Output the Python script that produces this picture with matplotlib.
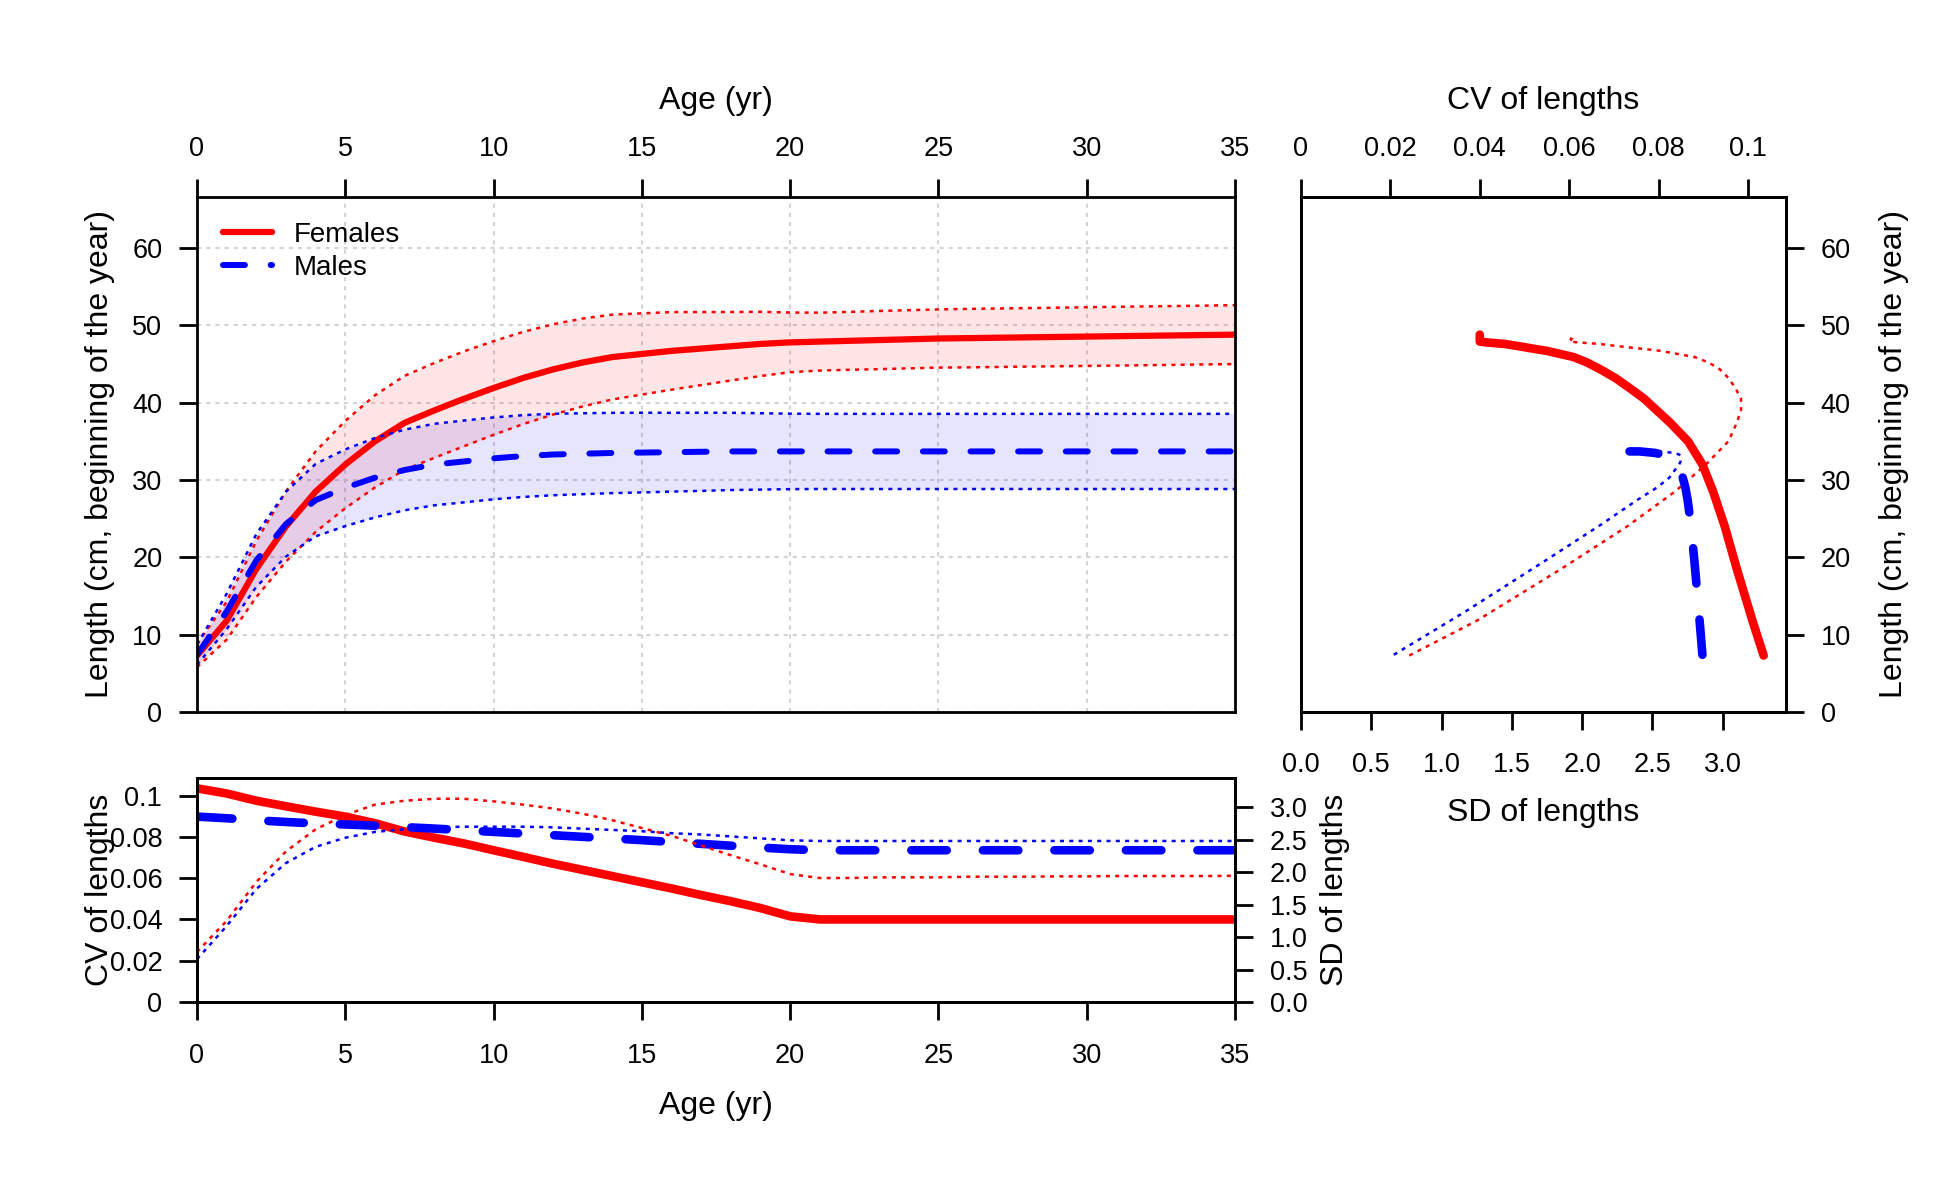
import numpy as np
import matplotlib

matplotlib.use("Agg")
import matplotlib.pyplot as plt

plt.rcParams["font.family"] = ["Liberation Sans", "DejaVu Sans"]
plt.rcParams["lines.scale_dashes"] = False

# values, one per age 0..35
ages = np.arange(0, 36)

f_len = [7.3, 11.8, 18.5, 24.0, 28.5, 32.0, 35.0, 37.4, 39.0, 40.5,
         41.9, 43.2, 44.3, 45.2, 45.9, 46.3, 46.7, 47.0, 47.3, 47.6,
         47.8, 47.9, 48.0, 48.1, 48.2, 48.3, 48.35, 48.4, 48.45, 48.5,
         48.55, 48.6, 48.65, 48.7, 48.75, 48.8]
m_len = [7.4, 13.0, 19.6, 24.3, 27.4, 29.0, 30.3, 31.3, 32.0, 32.4,
         32.8, 33.1, 33.3, 33.4, 33.5, 33.55, 33.6, 33.65, 33.7, 33.7,
         33.7, 33.7, 33.7, 33.7, 33.7, 33.7, 33.7, 33.7, 33.7, 33.7,
         33.7, 33.7, 33.7, 33.7, 33.7, 33.7]

f_cv = [0.1035, 0.1010, 0.0975, 0.0948, 0.0922, 0.0898, 0.0866, 0.0826, 0.0796, 0.0768,
        0.0735, 0.0703, 0.0670, 0.0640, 0.0610, 0.0580, 0.0550, 0.0518, 0.0488, 0.0455,
        0.0415, 0.0400, 0.0400, 0.0400, 0.0400, 0.0400, 0.0400, 0.0400, 0.0400, 0.0400,
        0.0400, 0.0400, 0.0400, 0.0400, 0.0400, 0.0400]
m_cv = [0.0898, 0.0890, 0.0880, 0.0872, 0.0865, 0.0860, 0.0854, 0.0847, 0.0840, 0.0832,
        0.0824, 0.0816, 0.0808, 0.0800, 0.0792, 0.0784, 0.0775, 0.0766, 0.0757, 0.0748,
        0.0740, 0.0735, 0.0735, 0.0735, 0.0735, 0.0735, 0.0735, 0.0735, 0.0735, 0.0735,
        0.0735, 0.0735, 0.0735, 0.0735, 0.0735, 0.0735]

f_sd = [0.77, 1.25, 1.85, 2.32, 2.66, 2.88, 3.04, 3.10, 3.13, 3.13,
        3.09, 3.04, 2.98, 2.90, 2.80, 2.68, 2.56, 2.41, 2.26, 2.12,
        1.97, 1.91, 1.91, 1.92, 1.92, 1.92, 1.93, 1.93, 1.93, 1.935,
        1.935, 1.94, 1.94, 1.94, 1.94, 1.945]
m_sd = [0.66, 1.17, 1.74, 2.14, 2.39, 2.53, 2.62, 2.66, 2.69, 2.70,
        2.70, 2.70, 2.69, 2.67, 2.65, 2.63, 2.60, 2.58, 2.55, 2.52,
        2.49, 2.48, 2.48, 2.48, 2.48, 2.48, 2.48, 2.48, 2.48, 2.48,
        2.48, 2.48, 2.48, 2.48, 2.48, 2.48]

len_ticks = [0, 10, 20, 30, 40, 50, 60]
age_ticks = [0, 5, 10, 15, 20, 25, 30, 35]
cv_ticks = [0, 0.02, 0.04, 0.06, 0.08, 0.1]
cv_labels = ["0", "0.02", "0.04", "0.06", "0.08", "0.1"]
sd_ticks = [0, 0.5, 1.0, 1.5, 2.0, 2.5, 3.0]
sd_labels = ["0.0", "0.5", "1.0", "1.5", "2.0", "2.5", "3.0"]

# shaded band = mean +/- 1.96 sd
f_hi = np.array(f_len) + 1.96 * np.array(f_sd)
f_lo = np.array(f_len) - 1.96 * np.array(f_sd)
m_hi = np.array(m_len) + 1.96 * np.array(m_sd)
m_lo = np.array(m_len) - 1.96 * np.array(m_sd)

RED = "#FF0000"
BLUE = "#0000FF"
TICK = 19.5
LAB = 23
LEN_MAX = 66.6
CV_MAX = 0.1085
SD_MAX = 3.45
THICK = 6.2

dot = (0, (2.9, 3.8))
dash_main = (0, (15.8, 18.5))
dash_thick = (0, (25.5, 26.0))

W, H = 1950, 1200
fig = plt.figure(figsize=(19.5, 12), dpi=100)


def box(l, t, r, b):
    return [l / W, 1 - b / H, (r - l) / W, (b - t) / H]


def style(a):
    for s in a.spines.values():
        s.set_linewidth(2)
    a.tick_params(which="both", direction="out", length=13, width=2, labelsize=TICK)


ax = fig.add_axes(box(197, 197, 1235, 712))
axr = fig.add_axes(box(1301, 197, 1786, 712))
axb = fig.add_axes(box(197, 778, 1235, 1002))

# ---- main: length at age
style(ax)
ax.set_xlim(0, 35)
ax.set_ylim(0, LEN_MAX)
ax.set_xticks(age_ticks)
ax.set_yticks(len_ticks)
ax.xaxis.tick_top()
ax.tick_params(axis="x", pad=12.5)
ax.tick_params(axis="y", pad=12)
ax.set_axisbelow(True)
ax.grid(True, color="#d3d3d3", lw=1.5, linestyle=(0, (3, 3.6)))

ax.fill_between(ages, f_lo, f_hi, color=RED, alpha=0.1, lw=0)
hf, = ax.plot(ages, f_len, color=RED, lw=4.5, solid_capstyle="round", solid_joinstyle="round")
ax.plot(ages, f_hi, color=RED, lw=1.8, linestyle=dot)
ax.plot(ages, f_lo, color=RED, lw=1.8, linestyle=dot)
ax.fill_between(ages, m_lo, m_hi, color=BLUE, alpha=0.1, lw=0)
hm, = ax.plot(ages, m_len, color=BLUE, lw=4.3, linestyle=dash_main, dash_capstyle="round")
ax.plot(ages, m_hi, color=BLUE, lw=1.8, linestyle=dot)
ax.plot(ages, m_lo, color=BLUE, lw=1.8, linestyle=dot)

ax.legend([hf, hm], ["Females", "Males"], loc="upper left", frameon=False, fontsize=20,
          bbox_to_anchor=(0.0147, 0.974), borderaxespad=0, borderpad=0.4,
          handlelength=1.75, handletextpad=0.8, labelspacing=0.27)

ax.set_xlabel("Age (yr)", fontsize=LAB)
ax.xaxis.set_label_position("top")
ax.xaxis.set_label_coords(0.5, 1.187)
ax.xaxis.label.set_va("center")
ax.set_ylabel("Length (cm, beginning of the year)", fontsize=LAB)
ax.yaxis.set_label_coords(-0.0935, 0.5)
ax.yaxis.label.set_va("center")

# ---- right: sd / cv against length
style(axr)
axr.set_xlim(0, SD_MAX)
axr.set_ylim(0, LEN_MAX)
axr.set_xticks(sd_ticks)
axr.set_xticklabels(sd_labels)
axr.set_yticks(len_ticks)
axr.yaxis.tick_right()
axr.tick_params(axis="x", pad=15.5)
axr.tick_params(axis="y", pad=12)
axr.plot(f_sd, f_len, color=RED, lw=1.8, linestyle=dot)
axr.plot(m_sd, m_len, color=BLUE, lw=1.8, linestyle=dot)
axr.set_xlabel("SD of lengths", fontsize=LAB)
axr.xaxis.set_label_coords(0.5, -0.196)
axr.xaxis.label.set_va("center")
axr.set_ylabel("Length (cm, beginning of the year)", fontsize=LAB)
axr.yaxis.set_label_position("right")
axr.yaxis.set_label_coords(1.222, 0.5)
axr.yaxis.label.set_va("center")
axr.yaxis.label.set_rotation(90)

axt = axr.twiny()
style(axt)
axt.set_xlim(0, CV_MAX)
axt.set_xticks(cv_ticks)
axt.set_xticklabels(cv_labels)
axt.tick_params(axis="x", pad=12.5)
axt.plot(f_cv, f_len, color=RED, lw=THICK, solid_capstyle="round", solid_joinstyle="round")
axt.plot(m_cv, m_len, color=BLUE, lw=THICK, linestyle=dash_thick, dash_capstyle="round")
axt.set_xlabel("CV of lengths", fontsize=LAB)
axt.xaxis.set_label_coords(0.5, 1.187)
axt.xaxis.label.set_va("center")

# ---- bottom: cv and sd at age
style(axb)
axb.set_xlim(0, 35)
axb.set_ylim(0, CV_MAX)
axb.set_xticks(age_ticks)
axb.set_yticks(cv_ticks)
axb.set_yticklabels(cv_labels)
axb.tick_params(axis="x", pad=16.5)
axb.tick_params(axis="y", pad=12)
axb.plot(ages, f_cv, color=RED, lw=THICK, solid_capstyle="butt", solid_joinstyle="round")
axb.plot(ages, m_cv, color=BLUE, lw=THICK, linestyle=dash_thick, dash_capstyle="round")
axb.set_xlabel("Age (yr)", fontsize=LAB)
axb.xaxis.set_label_coords(0.5, -0.464)
axb.xaxis.label.set_va("center")
axb.set_ylabel("CV of lengths", fontsize=LAB)
axb.yaxis.set_label_coords(-0.0935, 0.5)
axb.yaxis.label.set_va("center")

axb2 = axb.twinx()
style(axb2)
axb2.set_ylim(0, SD_MAX)
axb2.set_yticks(sd_ticks)
axb2.set_yticklabels(sd_labels)
axb2.tick_params(axis="y", pad=12)
axb2.plot(ages, f_sd, color=RED, lw=1.8, linestyle=dot)
axb2.plot(ages, m_sd, color=BLUE, lw=1.8, linestyle=dot)
axb2.set_ylabel("SD of lengths", fontsize=LAB)
axb2.yaxis.set_label_coords(1.096, 0.5)
axb2.yaxis.label.set_va("center")
axb2.yaxis.label.set_rotation(90)

fig.savefig("out.png", dpi=100, facecolor="white")
